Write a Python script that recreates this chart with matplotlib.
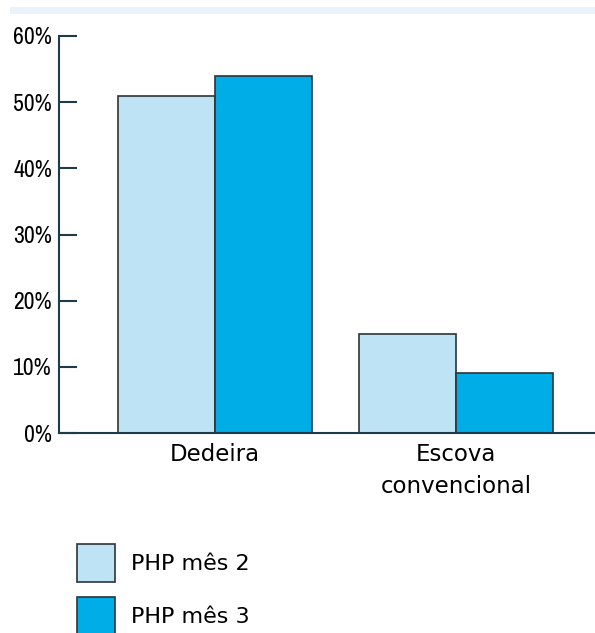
import matplotlib
matplotlib.use("Agg")
import matplotlib.pyplot as plt
from matplotlib.patches import Patch, Rectangle
import numpy as np

categories = ["Dedeira", "Escova\nconvencional"]
series_names = ["PHP mês 2", "PHP mês 3"]
mes2 = [51, 15]
mes3 = [54, 9]
yticks = [0, 10, 20, 30, 40, 50, 60]

light = "#BEE3F5"
dark = "#00ADE6"
edge = "#2E3438"
axis_col = "#1E3B4C"

plt.rcParams["font.family"] = ["DejaVu Sans"]

fig = plt.figure(figsize=(5.95, 6.33), dpi=100)
W, H = 595, 633

# light band at the top
fig.patches.append(Rectangle((10 / W, 1 - 14 / H), (W - 10) / W, 7 / H,
                             transform=fig.transFigure, facecolor="#EAF3FB",
                             edgecolor="none"))

ax = fig.add_axes([59 / W, (H - 433) / H, (W - 59) / W, 397 / H])

x = np.arange(len(categories))
w = 0.4025
ax.bar(x - w / 2, mes2, w, color=light, edgecolor=edge, linewidth=1.2)
ax.bar(x + w / 2, mes3, w, color=dark, edgecolor=edge, linewidth=1.2)

ax.set_xlim(-0.647, 1.577)
ax.set_ylim(0, 60)
ax.set_yticks(yticks)
ax.set_yticklabels([f"{t}%" for t in yticks],
                   family=["Archivo Narrow", "Liberation Sans"], fontsize=17)
ax.set_xticks(x)
ax.set_xticklabels(categories, fontsize=16.5, linespacing=1.5)
ax.tick_params(axis="y", direction="in", length=13, width=1.5, color=axis_col, pad=5)
ax.tick_params(axis="x", length=0, pad=7)

for s in ["top", "right"]:
    ax.spines[s].set_visible(False)
for s in ["left", "bottom"]:
    ax.spines[s].set_color(axis_col)
    ax.spines[s].set_linewidth(1.5)

handles = [Patch(facecolor=light, edgecolor=edge, linewidth=1.2),
           Patch(facecolor=dark, edgecolor=edge, linewidth=1.2)]
fig.legend(handles, series_names, loc="upper left",
           bbox_to_anchor=(77 / W, 1 - 544 / H), frameon=False,
           fontsize=16, handlelength=1.71, handleheight=2.26,
           labelspacing=0.68, handletextpad=0.72, borderpad=0, borderaxespad=0)

fig.savefig("out.png", dpi=100)
